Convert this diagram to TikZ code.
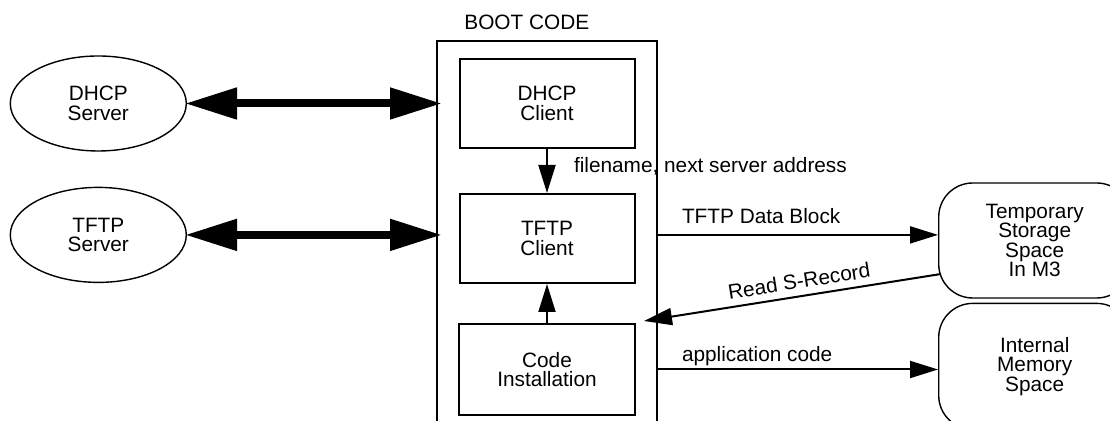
\documentclass[tikz,border=0pt]{standalone}
\usepackage{fontspec}
\setmainfont{Liberation Sans}
\usetikzlibrary{positioning,shapes.geometric,arrows.meta}
\tikzset{
  block/.style={draw, line width=1pt, minimum width=87.5pt, minimum height=44.5pt, align=center},
  server/.style={draw, ellipse, line width=0.7pt, minimum width=88pt, minimum height=47.5pt, inner sep=0pt, align=center},
  store/.style={draw, rounded corners=17pt, line width=0.7pt, minimum width=96pt, align=center},
  link/.style={line width=4pt, shorten <=-1pt, shorten >=-3pt,
    {Triangle[length=26pt,width=15pt]}-{Triangle[length=26pt,width=15pt]}},
  flow/.style={line width=1pt, -{Triangle[length=14pt,width=8.5pt]}},
  note/.style={anchor=base west, inner sep=0pt},
}

\begin{document}
\begin{tikzpicture}[x=0.5pt, y=-0.5pt, font=\fontsize{10.4}{9.8}\selectfont]
\clip (0,0) rectangle (1110,421);

% boot code frame, its bottom runs off the page
\node[draw, line width=1pt, minimum width=110pt, minimum height=199.5pt] (boot) at (547,240.5) {};
\node[note] (bootlbl) at ([xshift=14pt,yshift=5pt]boot.north west) {BOOT CODE};

\node[block] (dhcpc) at (547,103.5) {DHCP\\Client};
\node[block, below=22pt of dhcpc] (tftpc) {TFTP\\Client};
\node[block, below=19.5pt of tftpc, minimum width=88pt, minimum height=45.5pt] (install) {Code\\Installation};

\node[server, left=135.75pt of dhcpc] (dhcps) {DHCP\\Server};
\node[server, below=17.5pt of dhcps] (tftps) {TFTP\\Server};

\node[store, minimum height=57.5pt, right=140pt of boot] (temp) {Temporary\\Storage\\Space\\In M3};
\node[store, minimum height=63pt, below=2pt of temp] (mem) {Internal\\Memory\\Space};

\draw[link] (dhcps.east) -- (dhcps.east -| boot.west);
\draw[link] (tftps.east) -- (tftps.east -| boot.west);

\draw[flow] (dhcpc.south) -- node[note, pos=0.5, xshift=13pt, yshift=-1pt] {filename, next server address} (tftpc.north);
\draw[flow] (install.north) -- (tftpc.south);

\draw[flow] (boot.east |- tftps) -- node[note, pos=0, xshift=11.5pt, yshift=5.5pt] {TFTP Data Block} (tftps -| temp.west);
\draw[flow] ([shift={(1.5pt,-16.75pt)}]temp.west) -- node[pos=0.47, above, sloped] {Read S-Record} ([shift={(4pt,1pt)}]install.north east);
\draw[flow] (boot.east |- install) -- node[note, pos=0, xshift=11.5pt, yshift=4pt] {application code} (install -| mem.west);
\end{tikzpicture}
\end{document}
